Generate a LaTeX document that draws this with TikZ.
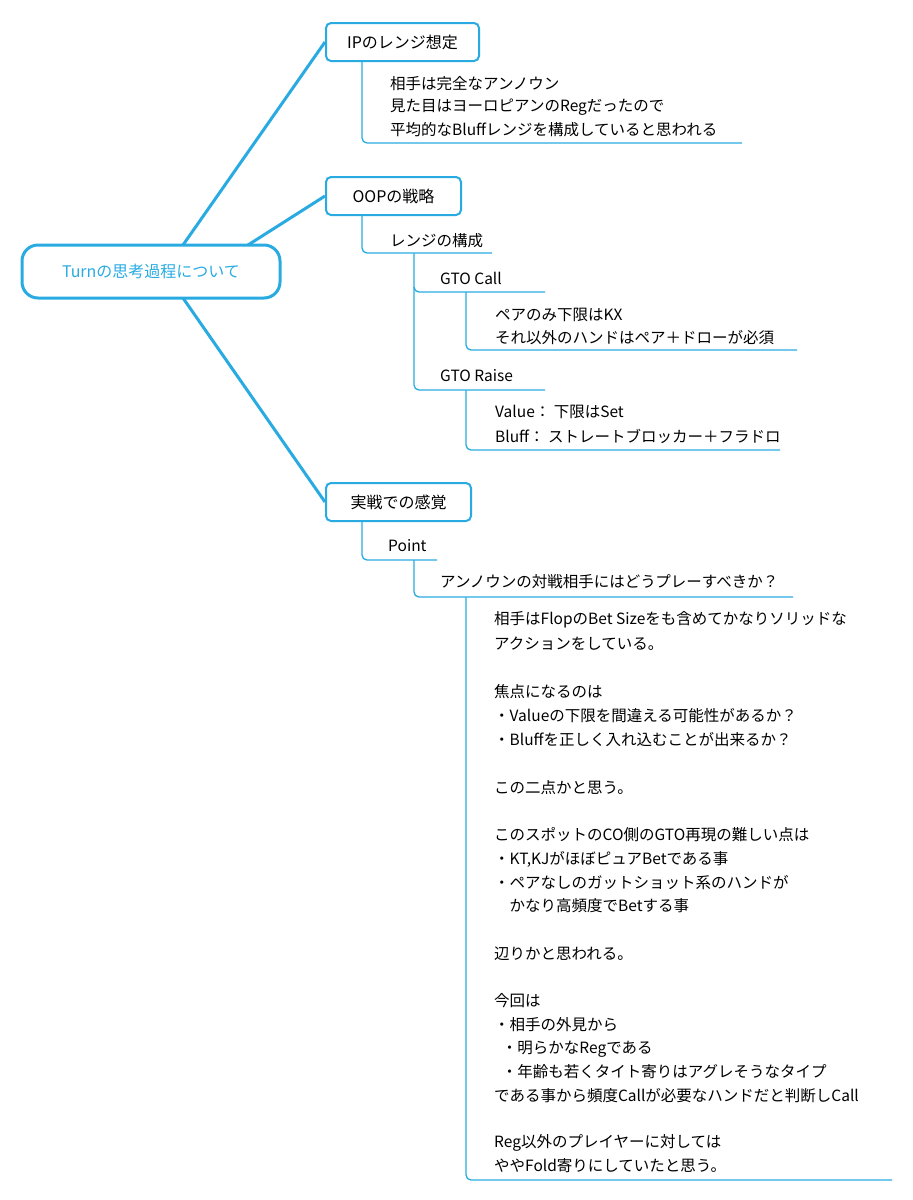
\documentclass[tikz,border=0pt]{standalone}
\usepackage{fontspec}
\setmainfont{Noto Sans CJK JP}
\definecolor{cy}{HTML}{29ABE2}
\begin{document}
\begin{tikzpicture}[x=1pt,y=-1pt,
  br/.style={draw=cy,line width=2pt,rounded corners=5pt,minimum height=38pt,inner xsep=6pt,font=\fontsize{16}{18}\selectfont,anchor=west},
  tx/.style={anchor=west,inner sep=0pt,font=\fontsize{15.5}{18}\selectfont},
  ln/.style={draw=cy,line width=1.3pt},
  big/.style={draw=cy,line width=3pt}]
\useasboundingbox (0,0) rectangle (913,1200);
\node[draw=cy,line width=3pt,rounded corners=16pt,minimum width=258pt,minimum height=53pt,text=cy,font=\fontsize{16}{18}\selectfont] (root) at (151,271.5) {Turnの思考過程について};
\node[br,minimum width=153pt] (ip) at (325,42) {IPのレンジ想定};
\node[br,minimum width=135pt] (oop) at (325,196) {OOPの戦略};
\node[br,minimum width=145pt] (jis) at (325,502) {実戦での感覚};
\draw[big] (183,245) -- (ip.west);
\draw[big] (248,245) -- (oop.west);
\draw[big] (183,298) -- (jis.west);
% IP
\draw[ln] (362,62) -- (362,138) to[out=-90,in=180] (367,143) -- (742,143);
\node[tx] (t1) at (390,84) {相手は完全なアンノウン};
\node[tx] (t2) at (390,107) {見た目はヨーロピアンのRegだったので};
\node[tx] (t3) at (390,130) {平均的なBluffレンジを構成していると思われる};
% OOP
\draw[ln] (362,215) -- (362,248) to[out=-90,in=180] (367,253) -- (492,253);
\node[tx] (rk) at (390,241) {レンジの構成};
\draw[ln] (414,253) -- (414,385) to[out=-90,in=180] (419,390) -- (545,390);
\draw[ln] (414,287) to[out=-90,in=180] (419,292) -- (545,292);
\node[tx] (call) at (440,278) {GTO Call};
\node[tx] (raise) at (440,376) {GTO Raise};
\draw[ln] (466,292) -- (466,345) to[out=-90,in=180] (471,350) -- (797,350);
\node[tx] (c1) at (495,315) {ペアのみ下限はKX};
\node[tx] (c2) at (495,338) {それ以外のハンドはペア＋ドローが必須};
\draw[ln] (466,390) -- (466,445) to[out=-90,in=180] (471,450) -- (780,450);
\node[tx] (r1) at (495,412) {Value： 下限はSet};
\node[tx] (r2) at (495,436) {Bluff： ストレートブロッカー＋フラドロ};
% 実戦
\draw[ln] (362,521) -- (362,555) to[out=-90,in=180] (367,560) -- (437,560);
\node[tx] (pt) at (388,546) {Point};
\draw[ln] (414,560) -- (414,592) to[out=-90,in=180] (419,597) -- (793,597);
\node[tx] (q) at (440,582) {アンノウンの対戦相手にはどうプレーすべきか？};
\draw[ln] (466,597) -- (466,1175) to[out=-90,in=180] (471,1180) -- (892,1180);
\foreach \yy/\s in {620/相手はFlopのBet Sizeをも含めてかなりソリッドな,644/アクションをしている。,692/焦点になるのは,716/・Valueの下限を間違える可能性があるか？,740/・Bluffを正しく入れ込むことが出来るか？,788/この二点かと思う。,835/このスポットのCO側のGTO再現の難しい点は,859/{・KT,KJがほぼピュアBetである事},883/・ペアなしのガットショット系のハンドが,906/\hspace{1em}かなり高頻度でBetする事,954/辺りかと思われる。,1001/今回は,1025/・相手の外見から,1049/\hspace{0.5em}・明らかなRegである,1072/\hspace{0.5em}・年齢も若くタイト寄りはアグレそうなタイプ,1096/である事から頻度Callが必要なハンドだと判断しCall,1143/Reg以外のプレイヤーに対しては,1166/ややFold寄りにしていたと思う。}
  \node[tx] at (494,\yy) {\s};
\end{tikzpicture}
\end{document}
